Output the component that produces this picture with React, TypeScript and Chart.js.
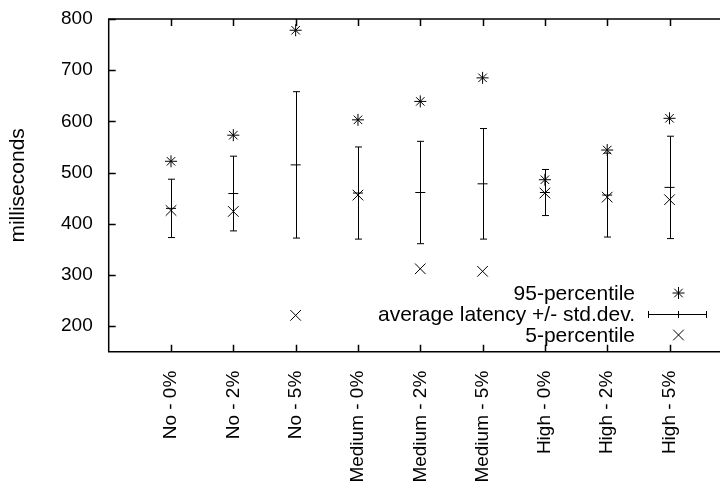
import React, { useEffect, useRef } from 'react';
import { Chart, registerables } from 'chart.js';

Chart.register(...registerables);

const categories = [
  'No - 0%', 'No - 2%', 'No - 5%',
  'Medium - 0%', 'Medium - 2%', 'Medium - 5%',
  'High - 0%', 'High - 2%', 'High - 5%',
];
const p95 = [522, 573, 778, 603, 639, 685, 486, 544, 606];
const avgLatency = [430, 459, 515, 460, 461, 478, 461, 456, 471];
const stdDev = [57, 73, 143, 90, 100, 108, 45, 82, 100];
const p5 = [426, 424, 221, 456, 312, 307, 460, 452, 447];
const yTicks = [200, 300, 400, 500, 600, 700, 800];
const legendLabels = ['95-percentile', 'average latency +/- std.dev.', '5-percentile'];

const FONT = '"Liberation Sans", Arial, Helvetica, sans-serif';
const TICK_FS = 19;
const TITLE_FS = 21;
const LEGEND_FS = 21;

function drawStar(ctx: CanvasRenderingContext2D, x: number, y: number, r: number) {
  const d = Math.cos(Math.PI / 4) * r;
  ctx.beginPath();
  ctx.moveTo(x - r, y); ctx.lineTo(x + r, y);
  ctx.moveTo(x, y - r); ctx.lineTo(x, y + r);
  ctx.moveTo(x - d, y - d); ctx.lineTo(x + d, y + d);
  ctx.moveTo(x - d, y + d); ctx.lineTo(x + d, y - d);
  ctx.stroke();
}
function drawX(ctx: CanvasRenderingContext2D, x: number, y: number, r: number) {
  const d = Math.cos(Math.PI / 4) * r;
  ctx.beginPath();
  ctx.moveTo(x - d, y - d); ctx.lineTo(x + d, y + d);
  ctx.moveTo(x - d, y + d); ctx.lineTo(x + d, y - d);
  ctx.stroke();
}

const errorBarPlugin = {
  id: 'errorBars',
  afterDatasetsDraw(chart: any) {
    const ctx = chart.ctx as CanvasRenderingContext2D;
    const xs = chart.scales.x;
    const ys = chart.scales.y;
    ctx.save();
    ctx.strokeStyle = '#000';
    ctx.lineWidth = 1;
    avgLatency.forEach((a, i) => {
      const x = Math.round(xs.getPixelForValue(i + 1)) + 0.5;
      const yTop = ys.getPixelForValue(a + stdDev[i]);
      const yBot = ys.getPixelForValue(a - stdDev[i]);
      ctx.beginPath();
      ctx.moveTo(x, yTop); ctx.lineTo(x, yBot);
      ctx.moveTo(x - 3.5, yTop); ctx.lineTo(x + 3.5, yTop);
      ctx.moveTo(x - 3.5, yBot); ctx.lineTo(x + 3.5, yBot);
      ctx.stroke();
    });
    ctx.restore();
  },
};

const framePlugin = {
  id: 'frame',
  afterDraw(chart: any) {
    const ctx = chart.ctx as CanvasRenderingContext2D;
    const { left, right, top, bottom } = chart.chartArea;
    const xs = chart.scales.x;
    const ys = chart.scales.y;
    ctx.save();
    ctx.strokeStyle = '#000';
    ctx.lineWidth = 1.5;
    ctx.beginPath();
    ctx.moveTo(right + 2, top); ctx.lineTo(left, top); ctx.lineTo(left, bottom); ctx.lineTo(right + 2, bottom);
    ctx.stroke();
    ctx.beginPath();
    categories.forEach((_, i) => {
      const x = Math.round(xs.getPixelForValue(i + 1)) + 0.5;
      ctx.moveTo(x, top); ctx.lineTo(x, top + 7);
      ctx.moveTo(x, bottom); ctx.lineTo(x, bottom - 7);
    });
    yTicks.forEach((v) => {
      const y = Math.round(ys.getPixelForValue(v)) + 0.5;
      ctx.moveTo(left, y); ctx.lineTo(left + 7, y);
    });
    ctx.stroke();

    // legend
    ctx.font = `${LEGEND_FS}px ${FONT}`;
    ctx.fillStyle = '#000';
    ctx.textAlign = 'right';
    ctx.textBaseline = 'middle';
    const ly = [293, 314, 335];
    legendLabels.forEach((t, i) => ctx.fillText(t, 635, ly[i] + 1));
    ctx.lineWidth = 1;
    const sx = 678.5;
    drawStar(ctx, sx, ly[0], 6);
    ctx.beginPath();
    ctx.moveTo(648, ly[1] + 0.5); ctx.lineTo(707, ly[1] + 0.5);
    ctx.moveTo(648.5, ly[1] - 3); ctx.lineTo(648.5, ly[1] + 4);
    ctx.moveTo(706.5, ly[1] - 3); ctx.lineTo(706.5, ly[1] + 4);
    ctx.moveTo(sx, ly[1] - 3); ctx.lineTo(sx, ly[1] + 4);
    ctx.stroke();
    drawX(ctx, sx, ly[2], 7.5);
    ctx.restore();
  },
};

export default function App() {
  const ref = useRef<HTMLCanvasElement | null>(null);
  useEffect(() => {
    if (!ref.current) return;
    Chart.defaults.font.family = FONT;
    Chart.defaults.color = '#000';
    const chart = new Chart(ref.current, {
      type: 'scatter',
      data: {
        datasets: [
          {
            label: legendLabels[0],
            data: p95.map((v, i) => ({ x: i + 1, y: v })),
            pointStyle: 'star',
            radius: 6,
            borderColor: '#000',
            backgroundColor: '#000',
            borderWidth: 1,
          },
          {
            label: legendLabels[1],
            data: avgLatency.map((v, i) => ({ x: i + 1, y: v })),
            pointStyle: 'line',
            radius: 5,
            borderColor: '#000',
            backgroundColor: '#000',
            borderWidth: 1,
          },
          {
            label: legendLabels[2],
            data: p5.map((v, i) => ({ x: i + 1, y: v })),
            pointStyle: 'crossRot',
            radius: 7.5,
            borderColor: '#000',
            backgroundColor: '#000',
            borderWidth: 1,
          },
        ],
      },
      options: {
        responsive: false,
        animation: false,
        events: [],
        layout: { autoPadding: false, padding: { top: 19, right: 0, left: 0, bottom: 0 } },
        plugins: { legend: { display: false }, tooltip: { enabled: false } },
        scales: {
          x: {
            type: 'linear',
            bounds: 'data',
            min: 0,
            max: 9.81,
            grid: { display: false, drawTicks: false },
            border: { display: false },
            afterBuildTicks: (s: any) => { s.ticks = categories.map((_, i) => ({ value: i + 1 })); },
            afterFit: (s: any) => {
              s.height = 490 - 351.7;
              s.paddingLeft = 0; s.paddingRight = 0;
            },
            ticks: {
              autoSkip: false,
              minRotation: 90,
              maxRotation: 90,
              padding: 19,
              font: { size: TICK_FS },
              color: '#000',
              callback: (v: any) => categories[Math.round(Number(v)) - 1] ?? '',
            },
          },
          y: {
            type: 'linear',
            bounds: 'data',
            min: 150,
            max: 800,
            grid: { display: false, drawTicks: false },
            border: { display: false },
            afterBuildTicks: (s: any) => { s.ticks = yTicks.map((v) => ({ value: v })); },
            afterFit: (s: any) => {
              s.width = 108.7;
              s.paddingTop = 0; s.paddingBottom = 0;
            },
            ticks: { padding: 16, font: { size: TICK_FS }, color: '#000' },
            title: {
              display: true,
              text: 'milliseconds',
              font: { size: TITLE_FS },
              color: '#000',
              padding: { top: 6, bottom: 0 },
            },
          },
        },
      },
      plugins: [errorBarPlugin, framePlugin],
    } as any);
    return () => chart.destroy();
  }, []);
  return (
    <div style={{ position: 'absolute', left: 0, top: 0, width: 720, height: 490, background: '#fff' }}>
      <canvas ref={ref} width={720} height={490} style={{ display: 'block' }} />
    </div>
  );
}
